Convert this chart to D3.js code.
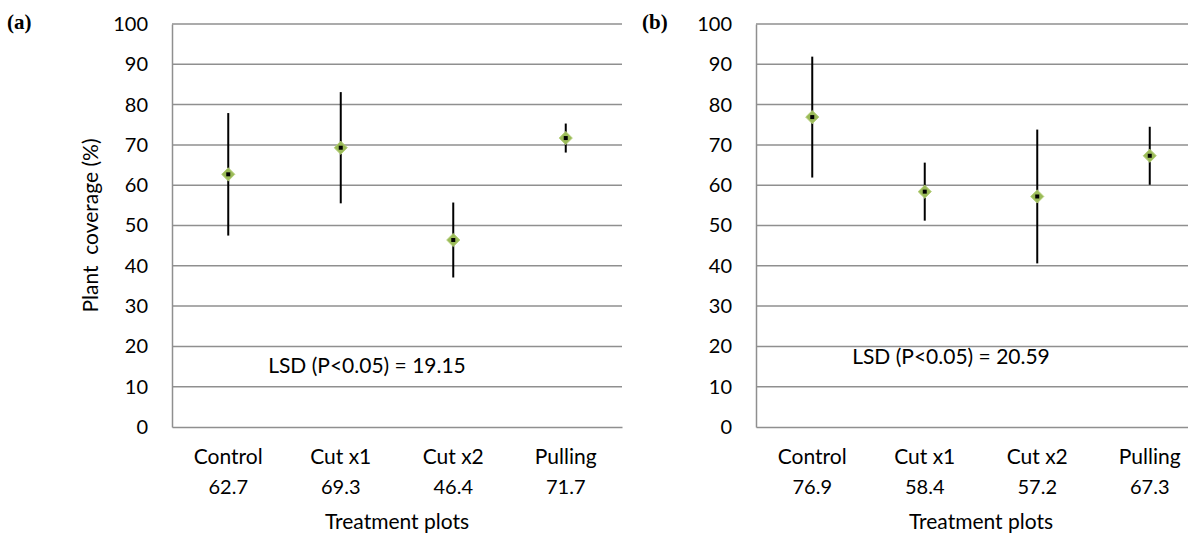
<!DOCTYPE html>
<html>
<head>
<meta charset="utf-8">
<script src="https://d3js.org/d3.v7.min.js"></script>
<style>
  body { margin: 0; background: #fff; }
  text { font-family: Lato, "Liberation Sans", sans-serif; fill: #000; }
  .panel-tag { font-family: "Liberation Serif", "DejaVu Serif", serif; font-weight: bold; }
</style>
</head>
<body>
<script>
// data
const treatments = ['Control', 'Cut x1', 'Cut x2', 'Pulling'];
const meansA = [62.7, 69.3, 46.4, 71.7];
const errA = [15.2, 13.8, 9.3, 3.6];
const meansB = [76.9, 58.4, 57.2, 67.3];
const errB = [15.0, 7.2, 16.6, 7.2];
const yTicks = [0, 10, 20, 30, 40, 50, 60, 70, 80, 90, 100];
const lsdLabels = ['LSD (P<0.05) = 19.15', 'LSD (P<0.05) = 20.59'];
const lsdPos = [15.1, 17.4];
const panelTags = ['(a)', '(b)'];

const W = 1188, H = 537;
const svg = d3.select('body').append('svg').attr('width', W).attr('height', H);

const y = d3.scaleLinear().domain([0, 100]).range([427, 24]);
const grid = '#8f8f8f';
const fs = 21, fsNum = 20;

const panels = [
  {tag: panelTags[0], tagX: 7, left: 172, means: meansA, err: errA, lsd: lsdLabels[0], lsdY: lsdPos[0], title: true},
  {tag: panelTags[1], tagX: 642, left: 756, means: meansB, err: errB, lsd: lsdLabels[1], lsdY: lsdPos[1], title: false}
];

panels.forEach(p => {
  const x = d3.scaleBand().domain(treatments).range([p.left, p.left + 450]);
  const g = svg.append('g');

  // gridlines
  g.selectAll('line.grid').data(yTicks.filter(d => d > 0)).enter().append('line')
    .attr('x1', p.left).attr('x2', p.left + 450)
    .attr('y1', d => y(d)).attr('y2', d => y(d))
    .attr('stroke', grid).attr('stroke-width', 1.5);

  // axes
  const ya = g.append('g').attr('transform', `translate(${p.left},0)`)
    .call(d3.axisLeft(y).tickValues(yTicks).tickSize(0).tickPadding(24));
  ya.select('.domain').attr('stroke', grid).attr('stroke-width', 1.5);
  ya.selectAll('text').attr('font-size', fsNum).attr('font-family', 'Lato, sans-serif');

  const xa = g.append('g').attr('transform', `translate(0,${y(0)})`)
    .call(d3.axisBottom(x).tickSize(0).tickFormat(() => ''));
  xa.select('.domain').attr('stroke', grid).attr('stroke-width', 1.5);

  // category labels with means
  const lab = g.selectAll('g.lab').data(treatments).enter().append('g')
    .attr('transform', d => `translate(${x(d) + x.bandwidth() / 2},0)`);
  lab.append('text').attr('y', 464).attr('text-anchor', 'middle').attr('font-size', fs).text(d => d);
  lab.append('text').attr('y', 494).attr('text-anchor', 'middle').attr('font-size', fsNum)
    .text((d, i) => d3.format('.1f')(p.means[i]));

  g.append('text').attr('x', p.left + 225).attr('y', 529).attr('text-anchor', 'middle')
    .attr('font-size', fs).text('Treatment plots');

  // error bars
  g.selectAll('line.err').data(treatments).enter().append('line')
    .attr('x1', d => x(d) + x.bandwidth() / 2).attr('x2', d => x(d) + x.bandwidth() / 2)
    .attr('y1', (d, i) => y(p.means[i] + p.err[i]))
    .attr('y2', (d, i) => y(p.means[i] - p.err[i]))
    .attr('stroke', '#000').attr('stroke-width', 2);

  // markers
  const sym = d3.symbol().type(d3.symbolDiamond2).size(110);
  g.selectAll('path.mk').data(treatments).enter().append('path')
    .attr('d', sym)
    .attr('transform', (d, i) => `translate(${x(d) + x.bandwidth() / 2},${y(p.means[i])})`)
    .attr('fill', '#9bbb59').attr('stroke', '#b5cf7a').attr('stroke-width', 1);
  g.selectAll('rect.dot').data(treatments).enter().append('rect')
    .attr('x', d => x(d) + x.bandwidth() / 2 - 2)
    .attr('y', (d, i) => y(p.means[i]) - 2)
    .attr('width', 4).attr('height', 4).attr('fill', '#000');

  // LSD note
  g.append('text').attr('x', p.left + 195).attr('y', y(p.lsdY)).attr('dy', '0.35em')
    .attr('text-anchor', 'middle').attr('font-size', fs).text(p.lsd);

  // panel tag
  g.append('text').attr('class', 'panel-tag').attr('x', p.tagX).attr('y', 29)
    .attr('font-size', 21).text(p.tag);

  if (p.title) {
    g.append('text').attr('transform', `translate(98,${y(50)}) rotate(-90)`)
      .attr('text-anchor', 'middle').attr('font-size', fs)
      .style('white-space', 'pre').text('Plant  coverage (%)');
  }
});
</script>
</body>
</html>
